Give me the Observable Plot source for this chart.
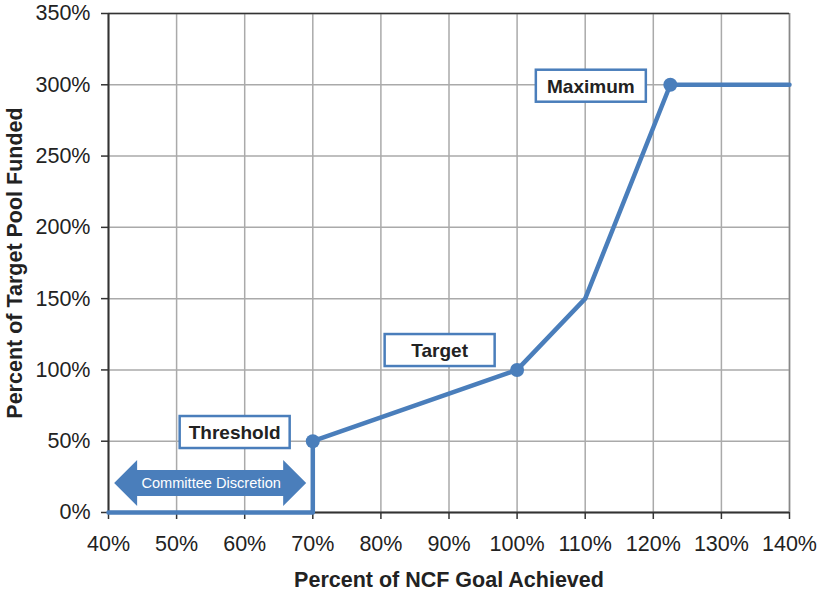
<!DOCTYPE html>
<html>
<head>
<meta charset="utf-8">
<script src="https://cdn.jsdelivr.net/npm/d3@7"></script>
<script src="https://cdn.jsdelivr.net/npm/@observablehq/plot@0.6"></script>
<style>
  html, body { margin: 0; padding: 0; background: #fff; }
  #chart { width: 819px; height: 591px; }
  svg { font-family: "Liberation Sans", Arial, sans-serif; }
</style>
</head>
<body>
<div id="chart"></div>
<script>
// Data
const goalPct   = [40, 70, 70, 100, 110, 122.5, 140];
const fundedPct = [0, 0, 50, 100, 150, 300, 300];
const markerX = [70, 100, 122.5];
const markerY = [50, 100, 300];
const labelNames = ["Threshold", "Target", "Maximum"];
const labelX = [58.6, 88.7, 110.9];
const labelY = [56.1, 113.6, 299];
const xTicks = [40, 50, 60, 70, 80, 90, 100, 110, 120, 130, 140];
const yTicks = [0, 50, 100, 150, 200, 250, 300, 350];
const discretionRange = [40.9, 69.1];
const discretionY = 20.3;
const discretionText = "Committee Discretion";

const blue = "#4a7ebb";
const curve = goalPct.map((x, i) => ({x, y: fundedPct[i]}));
const markers = markerX.map((x, i) => ({x, y: markerY[i]}));
const labels = labelNames.map((t, i) => ({t, x: labelX[i], y: labelY[i]}));

function doubleArrow(index, scales) {
  const x1 = scales.x(discretionRange[0]), x2 = scales.x(discretionRange[1]);
  const yc = scales.y(discretionY);
  const sh = 13, hh = 23, hl = 23;
  const p = [
    [x1, yc], [x1 + hl, yc - hh], [x1 + hl, yc - sh], [x2 - hl, yc - sh], [x2 - hl, yc - hh],
    [x2, yc], [x2 - hl, yc + hh], [x2 - hl, yc + sh], [x1 + hl, yc + sh], [x1 + hl, yc + hh]
  ];
  const g = d3.create("svg:g");
  g.append("path").attr("d", "M" + p.map(q => q.join(",")).join("L") + "Z").attr("fill", blue);
  g.append("text").attr("x", (x1 + x2) / 2 + 1).attr("y", yc).attr("dy", "0.35em")
    .attr("text-anchor", "middle").attr("fill", "#fff").style("font-size", "14.6px")
    .text(discretionText);
  return g.node();
}

function labelBoxes(index, scales) {
  const g = d3.create("svg:g");
  for (const d of labels) {
    const cx = scales.x(d.x), cy = scales.y(d.y);
    g.append("rect").attr("x", cx - 55).attr("y", cy - 16).attr("width", 110).attr("height", 32)
      .attr("fill", "#fff").attr("stroke", blue).attr("stroke-width", 2.5);
    g.append("text").attr("x", cx).attr("y", cy).attr("dy", "0.36em").attr("text-anchor", "middle")
      .attr("font-weight", "bold").style("font-size", "19px").attr("fill", "#222").text(d.t);
  }
  return g.node();
}

const plot = Plot.plot({
  width: 819,
  height: 591,
  marginLeft: 108,
  marginRight: 30,
  marginTop: 13,
  marginBottom: 79,
  style: {fontSize: "21px", color: "#222", fontFamily: "Liberation Sans, Arial, sans-serif"},
  x: {domain: [40, 140]},
  y: {domain: [0, 350]},
  marks: [
    Plot.ruleX(xTicks, {stroke: "#aaa", strokeWidth: 1.5}),
    Plot.ruleY(yTicks, {stroke: "#aaa", strokeWidth: 1.5}),
    Plot.ruleX([140], {stroke: "#888", strokeWidth: 1.5}),
    Plot.ruleY([350], {stroke: "#333", strokeWidth: 1.5}),
    Plot.axisX({ticks: xTicks, tickFormat: d => d + "%", tickSize: 7, tickPadding: 16, stroke: "#333", strokeWidth: 1.5,
      label: "Percent of NCF Goal Achieved", labelAnchor: "center", labelArrow: "none", labelOffset: 74, fontSize: 21}),
    Plot.axisY({ticks: yTicks, tickFormat: d => d + "%", tickSize: 7, tickPadding: 11, stroke: "#333", strokeWidth: 1.5,
      label: "Percent of Target Pool Funded", labelAnchor: "center", labelArrow: "none", labelOffset: 102, fontSize: 21}),
    Plot.ruleX([40], {stroke: "#333", strokeWidth: 2}),
    Plot.ruleY([0], {stroke: "#333", strokeWidth: 2}),
    Plot.line(curve, {x: "x", y: "y", stroke: blue, strokeWidth: 4.5}),
    Plot.dot(markers, {x: "x", y: "y", r: 7, fill: blue}),
    labelBoxes,
    doubleArrow
  ]
});

const sel = d3.select(plot);
sel.selectAll("g[aria-label='x-axis tick label'], g[aria-label='y-axis tick label']")
  .attr("font-size", null).style("font-size", "21.5px").attr("fill", "#222");
sel.selectAll("g[aria-label='x-axis tick label'] text, g[aria-label='y-axis tick label'] text")
  .style("font-size", "21.5px");
sel.selectAll("g[aria-label='x-axis label'], g[aria-label='y-axis label']")
  .attr("font-size", null).style("font-size", "21.5px").attr("font-weight", "bold").attr("fill", "#222");
sel.selectAll("g[aria-label='x-axis label'] text, g[aria-label='y-axis label'] text")
  .style("font-size", "21.5px").attr("font-weight", "bold");
document.getElementById("chart").appendChild(plot);
</script>
</body>
</html>
